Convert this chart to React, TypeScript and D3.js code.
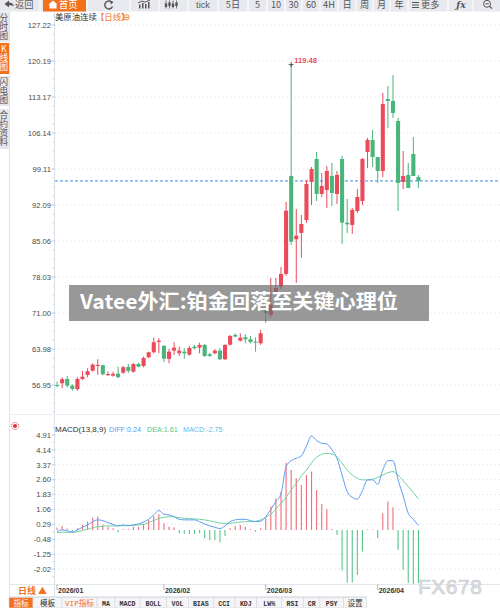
import React from "react";
import * as d3 from "d3";

// ---------- DATA ----------
const DATES: string[] = [
  "2026-01-02","2026-01-05","2026-01-06","2026-01-07","2026-01-08","2026-01-09","2026-01-12","2026-01-13","2026-01-14","2026-01-15",
  "2026-01-16","2026-01-19","2026-01-20","2026-01-21","2026-01-22","2026-01-23","2026-01-26","2026-01-27","2026-01-28","2026-01-29",
  "2026-01-30","2026-02-02","2026-02-03","2026-02-04","2026-02-05","2026-02-06","2026-02-09","2026-02-10","2026-02-11","2026-02-12",
  "2026-02-13","2026-02-16","2026-02-17","2026-02-18","2026-02-19","2026-02-20","2026-02-23","2026-02-24","2026-02-25","2026-02-26",
  "2026-02-27","2026-03-02","2026-03-03","2026-03-04","2026-03-05","2026-03-06","2026-03-09","2026-03-10","2026-03-11","2026-03-12",
  "2026-03-13","2026-03-16","2026-03-17","2026-03-18","2026-03-19","2026-03-20","2026-03-23","2026-03-24","2026-03-25","2026-03-26",
  "2026-03-27","2026-03-30","2026-03-31","2026-04-01","2026-04-02","2026-04-03","2026-04-06","2026-04-07","2026-04-08","2026-04-09",
  "2026-04-10","2026-04-13",
];
const OPEN = [
  56.96,57.29,58.13,56.83,56.12,58.13,58.91,59.75,60.81,60.81,
  58.86,58.78,59.17,59.36,60.48,59.56,61.06,60.67,62.37,63.34,
  65.35,64.57,62.04,63.66,63.15,63.46,62.88,64.44,64.24,64.77,
  62.95,63.15,63.66,61.98,64.83,66.72,65.61,66.27,65.88,65.41,
  65.10,71.99,70.62,74.72,76.09,78.63,97.75,85.40,86.63,89.16,
  96.58,101.07,94.24,95.02,97.75,94.24,101.07,88.64,88.19,90.92,
  92.87,102.44,104.78,101.46,98.73,112.78,112.39,108.49,96.58,97.95,
  102.04,97.56,
];
const CLOSE = [
  56.90,58.08,56.83,56.18,58.13,58.58,59.64,60.92,60.87,59.05,
  59.11,59.11,58.47,60.42,59.69,61.06,60.53,62.23,63.34,65.30,
  65.61,62.09,63.46,64.24,63.66,63.15,64.18,64.12,64.77,62.62,
  62.62,63.66,61.98,64.77,66.53,66.39,66.19,65.88,65.35,65.35,
  67.05,71.01,72.58,75.89,78.63,90.98,84.93,86.10,88.38,96.19,
  99.12,94.24,95.80,98.73,94.43,97.95,88.64,88.32,91.12,93.65,
  101.07,104.78,101.46,98.73,111.80,112.39,110.05,96.39,97.75,95.41,
  97.75,96.78,
];
const HIGH = [
  57.61,58.47,58.72,57.10,58.47,59.69,60.22,61.20,61.98,60.92,
  59.56,59.56,60.53,60.67,61.06,61.20,61.31,62.49,63.46,66.19,
  66.08,64.77,63.99,65.30,64.44,64.12,64.57,64.77,65.22,64.96,
  63.27,63.93,64.12,64.91,66.72,67.05,67.05,66.86,66.53,66.27,
  67.70,72.97,77.85,77.85,79.99,92.68,119.48,91.31,90.14,96.97,
  99.51,102.44,98.34,99.70,100.29,98.73,101.65,93.26,91.51,95.21,
  101.26,105.17,106.73,101.46,113.95,115.32,117.46,109.07,102.63,100.29,
  105.36,97.95,
];
const LOW = [
  56.51,56.32,56.51,55.85,55.85,57.94,58.47,59.56,58.91,58.86,
  58.72,58.58,58.27,59.11,59.30,59.36,60.42,60.42,62.17,63.15,
  63.15,61.39,61.20,62.82,62.62,62.04,62.68,63.93,63.15,62.43,
  62.43,62.95,61.84,61.84,64.63,66.27,65.41,65.10,65.10,63.46,
  64.77,69.06,70.23,73.55,75.70,78.24,84.29,76.87,81.75,88.58,
  92.09,92.87,93.65,91.51,91.90,92.29,84.48,86.63,86.43,90.53,
  92.09,99.31,99.51,96.39,97.56,107.12,109.07,90.92,95.21,95.41,
  97.75,95.41,
];
const DIFF = [
  -0.09,0.00,-0.05,-0.12,0.00,0.14,0.26,0.43,0.52,0.48,
  0.38,0.29,0.21,0.26,0.22,0.26,0.31,0.41,0.55,0.78,
  1.00,0.81,0.78,0.69,0.55,0.52,0.52,0.52,0.43,0.31,
  0.21,0.14,0.07,0.21,0.43,0.52,0.55,0.55,0.48,0.43,
  0.45,0.69,1.07,1.47,1.86,3.27,3.58,3.71,3.83,4.34,
  4.86,4.62,4.48,4.45,4.14,3.71,2.84,1.98,1.69,1.59,
  2.03,2.59,2.59,2.36,3.10,3.58,3.58,2.59,1.76,0.86,
  0.55,0.24,
];
const DEA = [
  -0.14,-0.12,-0.12,-0.12,-0.09,-0.03,0.03,0.12,0.17,0.19,
  0.21,0.21,0.21,0.22,0.22,0.24,0.26,0.29,0.38,0.48,
  0.60,0.65,0.69,0.67,0.64,0.60,0.59,0.57,0.55,0.52,
  0.47,0.41,0.36,0.34,0.34,0.38,0.41,0.43,0.43,0.45,
  0.52,0.65,0.83,1.07,1.38,1.69,2.07,2.41,2.79,3.10,
  3.48,3.76,3.91,3.96,3.93,3.76,3.45,3.10,2.84,2.67,
  2.59,2.59,2.62,2.72,2.84,2.96,3.02,2.84,2.55,2.24,
  1.93,1.61,
];
const MACD = [
  0.12,0.21,0.07,-0.09,0.09,0.26,0.43,0.64,0.69,0.26,
  0.17,0.09,-0.12,0.05,0.03,0.17,0.17,0.29,0.52,0.72,
  0.83,0.34,0.17,0.14,-0.17,-0.21,-0.22,-0.21,-0.17,-0.43,
  -0.52,-0.52,-0.64,-0.31,0.09,0.21,0.26,0.17,0.05,-0.09,
  0.09,0.60,1.21,1.64,1.98,3.48,3.10,2.67,2.33,2.84,
  3.02,2.07,1.34,1.07,0.05,-0.26,-2.10,-2.72,-2.72,-2.33,
  -1.12,0.03,0.02,-0.43,0.86,1.47,1.17,-1.03,-2.07,-2.74,
  -2.79,-2.75,
];

const PRICE_TICKS = [127.22, 120.19, 113.17, 106.14, 99.11, 92.09, 85.06, 78.03, 71.0, 63.98, 56.95];
const MACD_TICKS = [4.91, 4.14, 3.37, 2.6, 1.83, 1.06, 0.29, -0.48, -1.25, -2.02];
const MONTHS = ["2026-01", "2026-02", "2026-03", "2026-04"];
const MONTH_LABELS = ["2026/01", "2026/02", "2026/03", "2026/04"];
const LAST_PRICE = 96.78;
const HIGH_MARK = 119.48;
const TITLE = "美原油连续";
const PERIOD = "【日线】";
const MACD_TITLE = "MACD(13,8,9)";
const MACD_LEGEND = ["DIFF:0.24", "DEA:1.61", "MACD:-2.75"];
const BANNER = "Vatee外汇:铂金回落至关键心理位";
const TOP_LABELS = ["返回", "首页", "", "", "", "tick", "5日", "5", "10", "30", "60", "4H", "日", "周", "月", "年", "更多", "fx", ""];
const SIDE_TABS = ["分时图", "K线图", "闪电图", "合约资料"];
const BOTTOM_TABS = ["指标", "模板", "VIP指标", "MA", "MACD", "BOLL", "VOL", "BIAS", "CCI", "KDJ", "LW%", "RSI", "CR", "PSY", "设置"];
const PERIOD_BTN = "日线 ▲";
const WATERMARK = "FX678";

// ---------- LAYOUT ----------
const TOP_EDGES = [0, 40, 87, 130, 159, 188, 218, 248, 267, 285, 302, 320, 338, 356, 373, 390, 408, 448, 473, 500];
const SIDE_SPANS = [[12, 42], [43, 74], [76, 106], [109, 149]];
const BOTTOM_EDGES = [9, 33, 62, 97, 115, 140, 166.7, 188.3, 213.3, 235, 256.7, 281.7, 303.3, 320, 343.3, 366.7];
const LEGEND_X = [109, 147, 183];

const RED = "#ec4a5a";
const GREEN = "#4ab57b";
const ORANGE = "#f3701f";
const SANS = "'Liberation Sans', Arial, 'Noto Sans CJK SC', sans-serif";
const CJK = "'Noto Sans CJK SC', 'Liberation Sans', sans-serif";
const MONO = "'Liberation Mono', 'Noto Sans CJK SC', monospace";
const LEGEND_COLORS = ["#5b9cf0", "#56c48a", "#67b8ea"];

export default function App() {
  const step = 5.09;
  const x = d3
    .scaleBand<string>()
    .domain(DATES)
    .range([54.5, 54.5 + DATES.length * step])
    .paddingInner(0.2)
    .paddingOuter(0.1);
  const cx = (d: string) => (x(d) ?? 0) + x.bandwidth() / 2;
  const bw = x.bandwidth();
  const y = d3.scaleLinear().domain([56.95, 127.22]).range([385, 25]);
  const ym = d3.scaleLinear().domain([-2.02, 4.91]).range([569, 435]);

  const seriesLine = d3
    .line<number>()
    .x((_, i) => cx(DATES[i]))
    .y((v) => ym(v))
    .curve(d3.curveMonotoneX);

  const pStep = (PRICE_TICKS[0] - PRICE_TICKS[1]) / 4;
  const minorPrice = d3.range(PRICE_TICKS[0] + pStep * 3, 56.95 - pStep * 7, -pStep).filter((v) => y(v) > 13 && y(v) < 413);
  const mStep = (MACD_TICKS[0] - MACD_TICKS[1]) / 2;
  const minorMacd = d3.range(MACD_TICKS[0] + mStep, -2.02 - mStep * 3, -mStep).filter((v) => ym(v) > 418 && ym(v) < 583);

  const highIdx = HIGH.indexOf(HIGH_MARK);
  const hx = cx(DATES[highIdx]);
  const hy = y(HIGH_MARK);

  const TB_Y = 8.2;
  const TB_FS = 9.2;

  return (
    <div style={{ position: "absolute", left: 0, top: 0, width: 500, height: 608 }}>
      <svg width={500} height={608} style={{ display: "block", background: "#fff" }}>
        {/* top toolbar */}
        <rect x={0} y={0} width={500} height={11.5} fill="#e8e9ee" />
        {TOP_LABELS.map((lab, i) => {
          const x0 = TOP_EDGES[i], x1 = TOP_EDGES[i + 1];
          const mid = (x0 + x1) / 2;
          return (
            <g key={"tb" + i}>
              {i > 0 && <line x1={x0} x2={x0} y1={0} y2={11.5} stroke="#f8f8fa" strokeWidth={1.5} />}
              {i === 1 && <rect x={43} y={0} width={43} height={11.5} fill={ORANGE} />}
              {lab && i !== 0 && i !== 1 && i !== 16 && i !== 17 && (
                <text x={mid} y={TB_Y} fontSize={TB_FS} fontFamily={i === 5 ? SANS : CJK} fill="#555" textAnchor="middle">{lab}</text>
              )}
            </g>
          );
        })}
        {/* back */}
        <path d="M4.5 4 L9 0.5 L9 2.5 Q13 2.5 14 6.5 Q12 5 9 5.3 L9 7.5 Z" fill="#555" />
        <text x={15} y={TB_Y} fontSize={TB_FS} fontFamily={CJK} fill="#555">{TOP_LABELS[0]}</text>
        {/* home */}
        <path d="M48.5 4.5 L53 0.5 L57.5 4.5 L56.5 4.5 L56.5 8.5 L49.5 8.5 L49.5 4.5 Z" fill="#fff" />
        <text x={59} y={TB_Y} fontSize={TB_FS} fontFamily={CJK} fill="#fff">{TOP_LABELS[1]}</text>
        {/* refresh */}
        <path d="M112 2.5 A4 4 0 1 0 112.5 6.5" fill="none" stroke="#555" strokeWidth={1.4} />
        <path d="M110 0.5 L113.5 2 L111 4.5 Z" fill="#555" />
        {/* chart icon */}
        <rect x={139} y={4.5} width={1.5} height={4} fill="#555" />
        <rect x={142} y={3} width={1.5} height={5.5} fill="#555" />
        <rect x={145} y={4} width={1.5} height={4.5} fill="#555" />
        <rect x={148} y={2} width={1.5} height={6.5} fill="#555" />
        <path d="M138 3 L142 1 L145 2.2 L150 0" fill="none" stroke="#555" strokeWidth={1} />
        {/* candle icon */}
        {[166, 169.5, 173, 176.5].map((px, k) => (
          <g key={"ci" + k}>
            <line x1={px} x2={px} y1={0.5} y2={8.5} stroke="#555" strokeWidth={0.8} />
            <rect x={px - 1.2} y={k % 2 ? 2.5 : 3.5} width={2.4} height={3.5} fill="#555" />
          </g>
        ))}
        {/* 更多 */}
        <path d="M412 2.5 H419 M412 5 H419 M412 7.5 H419" stroke="#555" strokeWidth={1} />
        <text x={421} y={TB_Y} fontSize={TB_FS} fontFamily={CJK} fill="#555">{TOP_LABELS[16]}</text>
        <text x={461} y={TB_Y} fontSize={TB_FS} fontFamily="'DejaVu Serif', serif" fontStyle="italic" fontWeight="bold" fill="#555" textAnchor="middle">ƒx</text>
        <circle cx={487} cy={3.8} r={3.5} fill="none" stroke="#555" strokeWidth={1} />
        <line x1={485.3} x2={488.7} y1={3.8} y2={3.8} stroke="#555" strokeWidth={1} />
        <line x1={489.8} x2={492} y1={6.5} y2={8.7} stroke="#555" strokeWidth={1.2} />

        {/* side tabs */}
        {SIDE_TABS.map((t, i) => {
          const [a, b] = SIDE_SPANS[i];
          const active = i === 1;
          return (
            <g key={"st" + i}>
              <rect x={0} y={a} width={9} height={b - a} fill={active ? ORANGE : "#e6e7ec"} />
              <text fontSize={8.6} fontFamily={CJK} fill={active ? "#fff" : "#555"} textAnchor="middle">
                {Array.from(t).map((ch, k) => (
                  <tspan key={k} x={3.8} y={a + 9 + k * 9}>{ch}</tspan>
                ))}
              </text>
            </g>
          );
        })}
        <line x1={9.5} x2={9.5} y1={12} y2={597} stroke="#dfe4ec" strokeWidth={1} />

        {/* axis lines */}
        <line x1={54.5} x2={54.5} y1={12} y2={597} stroke="#d8e0ea" strokeWidth={1} />
        <line x1={10} x2={500} y1={414.5} y2={414.5} stroke="#eceff3" strokeWidth={1} />
        <line x1={10} x2={500} y1={584.5} y2={584.5} stroke="#e3e7ec" strokeWidth={1} />

        {/* title */}
        <text x={55} y={20} fontSize={8.4} fontFamily={CJK} fill="#333">{TITLE}</text>
        <text x={96} y={20} fontSize={8.4} fontFamily={CJK} fill={ORANGE}>{PERIOD}</text>
        <circle cx={126.5} cy={17.3} r={2.6} fill="none" stroke={ORANGE} strokeWidth={0.9} />
        <line x1={125} x2={128} y1={17.3} y2={17.3} stroke={ORANGE} strokeWidth={0.9} />

        {/* price grid & labels */}
        {PRICE_TICKS.map((t) => (
          <g key={"pt" + t}>
            <line x1={55} x2={500} y1={y(t)} y2={y(t)} stroke="#dde0e5" strokeDasharray="1,3" />
            <line x1={51.5} x2={54.5} y1={y(t)} y2={y(t)} stroke="#c7cfdb" />
            <text x={51} y={y(t) + 2.8} fontSize={7.6} fontFamily={SANS} fill="#4a4a4a" textAnchor="end">{t.toFixed(2)}</text>
          </g>
        ))}
        {minorPrice.map((v, k) => (
          <line key={"mp" + k} x1={52.5} x2={54.5} y1={y(v)} y2={y(v)} stroke="#d3dae4" />
        ))}

        {/* last price */}
        <line x1={55} x2={500} y1={y(LAST_PRICE)} y2={y(LAST_PRICE)} stroke="#3c8ce3" strokeWidth={1} strokeDasharray="3,2" />

        {/* candles */}
        {DATES.map((d, i) => {
          const c = cx(d);
          const up = CLOSE[i] >= OPEN[i];
          const col = up ? RED : GREEN;
          const yo = y(OPEN[i]);
          const yc = y(CLOSE[i]);
          const top = Math.min(yo, yc);
          const h = Math.max(1, Math.abs(yo - yc));
          return (
            <g key={"c" + d}>
              <line x1={c} x2={c} y1={y(HIGH[i])} y2={y(LOW[i])} stroke={col} strokeWidth={1} />
              <rect x={c - bw / 2} y={top} width={bw} height={h} fill={col} />
            </g>
          );
        })}

        {/* high marker */}
        <line x1={hx - 2.5} x2={hx + 2.5} y1={hy} y2={hy} stroke="#333" strokeWidth={0.8} />
        <line x1={hx} x2={hx} y1={hy - 2.5} y2={hy + 2.5} stroke="#333" strokeWidth={0.8} />
        <text x={hx + 3} y={hy - 2} fontSize={7.6} fontWeight="bold" fontFamily={SANS} fill={RED}>{HIGH_MARK.toFixed(2)}</text>

        {/* MACD panel */}
        <g>
          <circle cx={15} cy={426} r={2} fill="#e03040" />
          <circle cx={15} cy={426} r={3.6} fill="none" stroke="#e03040" strokeWidth={1} strokeDasharray="1,1" />
        </g>
        <text x={55} y={432} fontSize={8} fontFamily={SANS} fill="#333">{MACD_TITLE}</text>
        {MACD_LEGEND.map((t, k) => (
          <text key={t} x={LEGEND_X[k]} y={432} fontSize={7.2} fontFamily={SANS} fill={LEGEND_COLORS[k]}>{t}</text>
        ))}

        {MACD_TICKS.map((t) => (
          <g key={"mt" + t}>
            <line x1={55} x2={500} y1={ym(t)} y2={ym(t)} stroke="#dde0e5" strokeDasharray="1,3" />
            <line x1={51.5} x2={54.5} y1={ym(t)} y2={ym(t)} stroke="#c7cfdb" />
            <text x={51} y={ym(t) + 2.8} fontSize={7.6} fontFamily={SANS} fill="#4a4a4a" textAnchor="end">{t.toFixed(2)}</text>
          </g>
        ))}
        {minorMacd.map((v, k) => (
          <line key={"mm" + k} x1={52.5} x2={54.5} y1={ym(v)} y2={ym(v)} stroke="#d3dae4" />
        ))}

        {DATES.map((d, i) => {
          const c = cx(d);
          const v = MACD[i];
          return (
            <line key={"h" + d} x1={c} x2={c} y1={ym(0)} y2={ym(v)} stroke={v >= 0 ? "#ef6c7b" : "#58c48c"} strokeWidth={1.1} />
          );
        })}
        <path d={seriesLine(DEA) ?? ""} fill="none" stroke="#72d3a2" strokeWidth={1} />
        <path d={seriesLine(DIFF) ?? ""} fill="none" stroke="#5b9ef2" strokeWidth={1} />

        {/* date axis */}
        <text x={18} y={593.5} fontSize={9} fontWeight="bold" fontFamily={CJK} fill={ORANGE}>{PERIOD_BTN}</text>
        {MONTHS.map((m, k) => {
          const d = DATES.find((s) => s.startsWith(m)) as string;
          const px = cx(d);
          return (
            <g key={m}>
              <line x1={px} x2={px} y1={584.5} y2={590} stroke="#9aa0a8" strokeWidth={0.8} />
              <text x={px + 1} y={593} fontSize={7} fontWeight="bold" fontFamily={SANS} fill="#333">{MONTH_LABELS[k]}</text>
            </g>
          );
        })}

        {/* bottom toolbar */}
        <line x1={9} x2={366.7} y1={597} y2={597} stroke="#cfd3da" />
        {BOTTOM_TABS.map((t, i) => {
          const x0 = BOTTOM_EDGES[i], x1 = BOTTOM_EDGES[i + 1];
          const mid = (x0 + x1) / 2;
          const isCjk = /[\u4e00-\u9fff]/.test(t);
          return (
            <g key={"bt" + i}>
              <rect x={x0} y={597.5} width={x1 - x0} height={10.5} fill={i === 0 ? ORANGE : "#f5f5f7"} stroke="#d4d7dd" strokeWidth={0.6} />
              <text
                x={mid}
                y={605.6}
                fontSize={isCjk ? 7.6 : 6.6}
                fontFamily={i === 2 ? MONO : isCjk ? CJK : MONO}
                fontWeight={isCjk ? "normal" : "bold"}
                fill={i === 0 ? "#fff" : i === 2 ? ORANGE : "#333"}
                textAnchor="middle"
              >
                {t}
              </text>
            </g>
          );
        })}

        {/* watermark */}
        <text x={418} y={594} fontSize={21} fontFamily={SANS} fill="#dfe2e6" stroke="#c4c8cd" strokeWidth={0.6} letterSpacing={0.5}>{WATERMARK}</text>

        {/* banner */}
        <rect x={69} y={285} width={360} height={36} fill="#6c6c6c" opacity={0.7} />
        <text x={80} y={309} fontSize={20} fontWeight="bold" fontFamily={CJK} fill="#fff" textLength={318} lengthAdjust="spacingAndGlyphs">{BANNER}</text>
      </svg>
    </div>
  );
}
